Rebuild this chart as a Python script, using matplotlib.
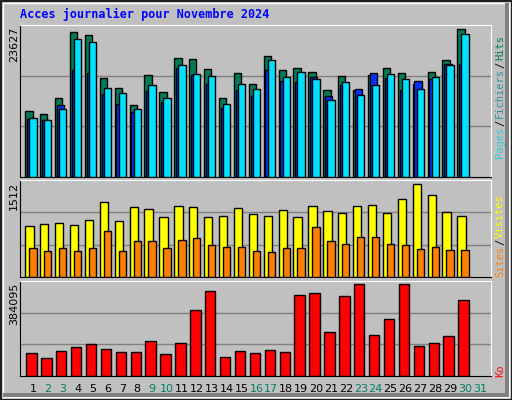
import matplotlib
matplotlib.use("Agg")
import matplotlib.pyplot as plt
from matplotlib.patches import Rectangle

days = list(range(1, 32))
weekend = [2, 3, 9, 10, 16, 17, 23, 24, 30, 31]
max_top, max_mid, max_bot = 23627, 1512, 384095
hits = [0.432,0.412,0.518,0.952,0.934,0.649,0.583,0.472,0.669,0.557,0.781,0.774,0.708,0.518,0.682,
        0.610,0.794,0.702,0.715,0.689,0.570,0.662,0.570,0.669,0.715,0.682,0.610,0.689,0.767,0.971]
files = [0.386,0.373,0.445,0.906,0.886,0.583,0.551,0.445,0.603,0.518,0.735,0.676,0.662,0.478,0.610,
         0.577,0.767,0.656,0.689,0.643,0.505,0.623,0.537,0.603,0.676,0.643,0.577,0.656,0.735,0.939]
pages = [0.380,0.373,0.472,0.702,0.682,0.544,0.478,0.426,0.564,0.491,0.715,0.669,0.610,0.452,0.570,
         0.531,0.702,0.630,0.623,0.656,0.531,0.603,0.577,0.682,0.649,0.570,0.630,0.643,0.741,0.741]
vis_px = [154,148,145,151,136,82,139,97,103,127,94,97,127,124,100,118,124,106,127,94,109,115,94,91,115,73,28,61,112,124]
site_px = [217,226,217,226,217,166,226,196,196,217,193,187,208,214,214,226,229,217,217,157,196,205,184,184,205,208,220,214,223,223]
ko_px = [535,550,529,517,508,523,532,532,499,538,505,406,349,547,529,535,526,532,361,355,472,364,328,481,433,328,514,505,484,376]

hits = [v * max_top for v in hits]
files = [v * max_top for v in files]
pages = [v * max_top for v in pages]
visits = [(305 - p) / 290 * max_mid for p in vis_px]
sites = [(305 - p) / 290 * max_mid for p in site_px]
ko = [(604 - p) / 286 * max_bot for p in ko_px]

W, H = 512, 400
fig = plt.figure(figsize=(5.12, 4.0), dpi=100)
fig.patch.set_facecolor("#c0c0c0")
fig.add_artist(Rectangle((0.5/W, 0.5/H), 1-1/W, 1-1/H, transform=fig.transFigure, fill=False, ec="black", lw=1.2))
fig.add_artist(Rectangle((3/W, 3/H), 1-6/W, 1-6/H, transform=fig.transFigure, fill=False, ec="white", lw=1))
fig.add_artist(Rectangle((505/W, 3/H), 4/W, 394/H, transform=fig.transFigure, fc="#808080", ec="none"))
fig.add_artist(Rectangle((3/W, 3/H), 504/W, 4/H, transform=fig.transFigure, fc="#808080", ec="none"))

fig.text(20/W, 1-14/H, "Acces journalier pour Novembre 2024", family="DejaVu Sans Mono",
         weight="bold", color="#0000ff", fontsize=8.5, va="center", ha="left")

def mkax(y0, y1):
    ax = fig.add_axes([20/W, 1 - y1/H, 471/W, (y1 - y0)/H])
    ax.set_facecolor("#c0c0c0")
    ax.set_xlim(0.13, 31.74)
    ax.set_xticks([]); ax.set_yticks([])
    for s in ("left", "bottom"):
        ax.spines[s].set_color("black")
    for s in ("top", "right"):
        ax.spines[s].set_color("white")
    return ax

x = days[:30]
def bars(ax, vals, off, w, c, z):
    ax.bar([d + off for d in x], vals, width=w, align="edge", color=c, edgecolor="black", lw=1, zorder=z)

ax1 = mkax(25, 177)
ax1.set_ylim(0, max_top)
for g in (1/3, 2/3):
    ax1.axhline(g * max_top, color="#808080", lw=1, zorder=1)
bars(ax1, hits, -0.52, 0.49, "#007a58", 2)
bars(ax1, pages, -0.40, 0.49, "#0033ff", 3)
bars(ax1, files, -0.25, 0.49, "#00e0ff", 4)

ax2 = mkax(180, 277)
ax2.set_ylim(0, max_mid)
for g in (1/3, 2/3):
    ax2.axhline(g * max_mid, color="#808080", lw=1, zorder=1)
bars(ax2, visits, -0.52, 0.56, "#ffff00", 2)
bars(ax2, sites, -0.25, 0.49, "#ff8000", 3)

ax3 = mkax(281, 376)
ax3.set_ylim(0, max_bot)
for g in (1/3, 2/3):
    ax3.axhline(g * max_bot, color="#808080", lw=1, zorder=1)
bars(ax3, ko, -0.45, 0.70, "#ff0000", 2)

for lab, y in (("23627", 27), ("1512", 182), ("384095", 283)):
    fig.text(14/W, 1 - y/H, lab, rotation=90, fontsize=8, va="top", ha="center", family="DejaVu Sans")

for d in days:
    xp = (20 + (d - 0.13) / (31.74 - 0.13) * 471) / W
    fig.text(xp, 1 - 389/H, str(d), fontsize=8, ha="center", va="center",
             color="#008060" if d in weekend else "black")

renderer = fig.canvas.get_renderer()
def rtext(parts, ybot):
    y = H - ybot  # pixels from bottom
    for t, c in parts:
        tx = fig.text(500/W, y/H, t, rotation=90, fontsize=7.5, family="DejaVu Sans Mono",
                      color=c, ha="center", va="bottom")
        bb = tx.get_window_extent(renderer)
        y += bb.height + 1
rtext([("Pages", "#30c8d8"), ("/", "black"), ("Fichiers", "#3090a0"), ("/", "black"), ("Hits", "#007a58")], 158)
rtext([("Sites", "#ff8000"), ("/", "black"), ("Visites", "#ffff00")], 277)
rtext([("Ko", "#ff0000")], 377)

fig.savefig("out.png", dpi=100, facecolor=fig.get_facecolor())
